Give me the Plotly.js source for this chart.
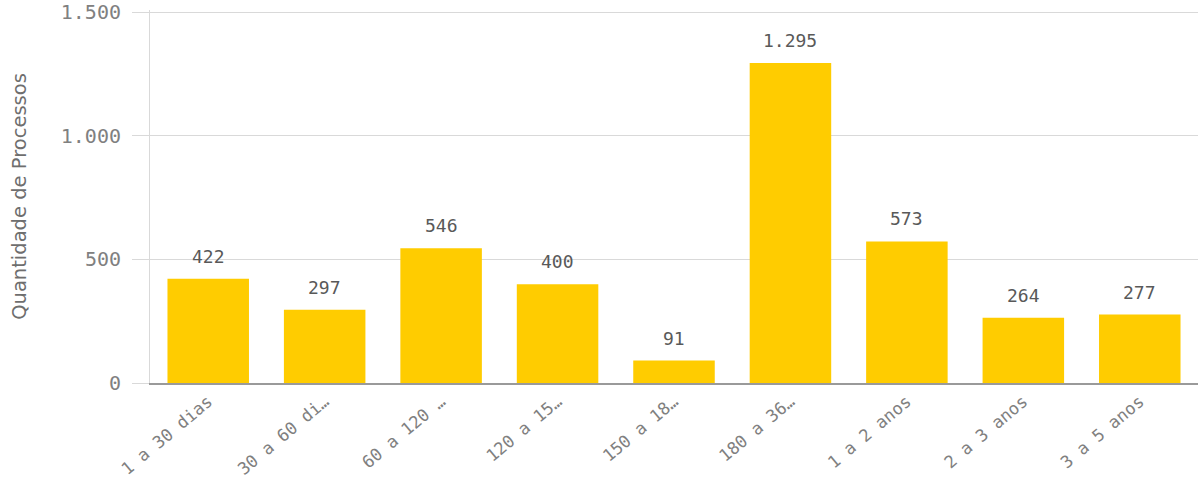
<!DOCTYPE html>
<html>
<head>
<meta charset="utf-8">
<script src="https://cdn.plot.ly/plotly-3.0.1.min.js"></script>
<style>html,body{margin:0;padding:0;background:#fff}#chart{width:1198px;height:482px}</style>
</head>
<body>
<div id="chart"></div>
<script>
const categories = ["1 a 30 dias", "30 a 60 di…", "60 a 120 …", "120 a 15…", "150 a 18…", "180 a 36…", "1 a 2 anos", "2 a 3 anos", "3 a 5 anos"];
const values = [422, 297, 546, 400, 91, 1295, 573, 264, 277];
const valueLabels = ["422", "297", "546", "400", "91", "1.295", "573", "264", "277"];
const yTickVals = [0, 500, 1000, 1500];
const yTickText = ["0", "500", "1.000", "1.500"];

const FONT = "DejaVu Sans Mono, monospace";
const trace = {
  type: "bar",
  x: categories,
  y: values,
  marker: {color: "#FFCC00"},
  hoverinfo: "none"
};
const annotations = categories.map((c, i) => ({
  x: c, y: values[i], text: valueLabels[i], showarrow: false,
  yanchor: "bottom", yshift: 10,
  font: {family: FONT, size: 18, color: "#595959"}
}));
const layout = {
  width: 1198, height: 482,
  margin: {l: 150, r: 0, t: 10, b: 99, pad: 0},
  paper_bgcolor: "#fff", plot_bgcolor: "#fff",
  bargap: 0.3,
  showlegend: false,
  xaxis: {
    type: "category",
    tickangle: -40,
    tickfont: {family: FONT, size: 17, color: "#808080"},
    showline: true, linecolor: "#9a9a9a", linewidth: 2,
    ticks: "", showgrid: false
  },
  yaxis: {
    range: [0, 1510],
    tickvals: yTickVals, ticktext: yTickText,
    tickfont: {family: FONT, size: 20, color: "#808080"},
    ticks: "outside", ticklen: 17, tickcolor: "#d9d9d9", tickwidth: 1,
    ticklabelstandoff: 7,
    showgrid: true, gridcolor: "#d9d9d9", gridwidth: 1,
    showline: true, linecolor: "#d9d9d9", linewidth: 1,
    zeroline: false,
    title: {text: "Quantidade de Processos", font: {family: "DejaVu Sans, sans-serif", size: 19.5, color: "#6e6e6e"}, standoff: 28}
  },
  annotations: annotations
};
Plotly.newPlot("chart", [trace], layout, {displayModeBar: false, staticPlot: true});
</script>
</body>
</html>
